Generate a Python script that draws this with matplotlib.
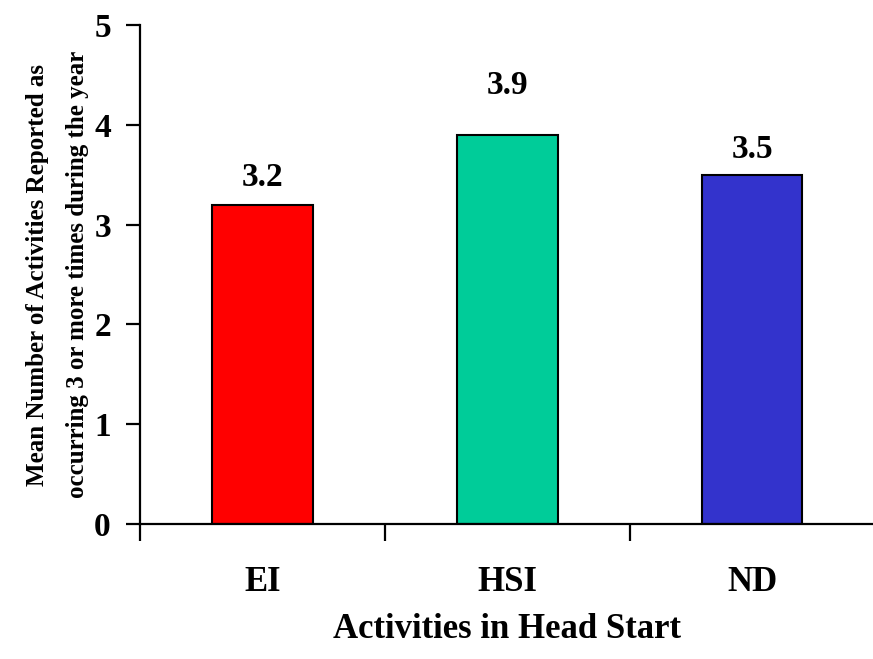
import matplotlib.pyplot as plt

categories = ['EI', 'HSI', 'ND']
values = [3.2, 3.9, 3.5]
colors = ['#FF0000', '#00CC99', '#3333CC']
yticks = [0, 1, 2, 3, 4, 5]

plt.rcParams['font.family'] = ['Liberation Serif', 'DejaVu Serif']
plt.rcParams['font.weight'] = 'bold'

fig = plt.figure(figsize=(8.73, 6.59), dpi=100)
ax = fig.add_axes([0.1604, 0.2049, 0.8416, 0.7571])

x = range(len(categories))
ax.bar(x, values, width=0.41, color=colors, edgecolor='black', linewidth=1.5, zorder=2)

# label gap above each bar (the HSI label sits higher in the original)
label_gap = [0.19, 0.41, 0.17]
for xi, v, g in zip(x, values, label_gap):
    ax.text(xi, v + g, f'{v:.1f}', ha='center', va='baseline', fontsize=24, fontweight='bold')

ax.set_xlim(-0.5, 2.5)
ax.set_ylim(0, 5)
ax.set_yticks(yticks)
ax.set_yticklabels([str(t) for t in yticks], fontsize=24, fontweight='bold')
ax.set_xticks([-0.5, 0.5, 1.5, 2.5])
ax.set_xticklabels([])
ax.set_xticks(list(x), minor=True)
ax.set_xticklabels(categories, minor=True, fontsize=25, fontweight='bold')
ax.tick_params(axis='x', which='minor', length=0, pad=30)
ax.tick_params(axis='x', which='major', length=12, width=1.6, direction='out')
ax.tick_params(axis='y', length=10, width=1.6, direction='out', pad=11)

for s in ['top', 'right']:
    ax.spines[s].set_visible(False)
for s in ['left', 'bottom']:
    ax.spines[s].set_linewidth(1.6)

ax.set_xlabel('Activities in Head Start', fontsize=25, fontweight='bold', labelpad=10)
ax.set_ylabel('Mean Number of Activities Reported as\noccurring 3 or more times during the year',
              fontsize=18, fontweight='bold', labelpad=4, linespacing=1.9)

fig.savefig('out.png', dpi=100)
